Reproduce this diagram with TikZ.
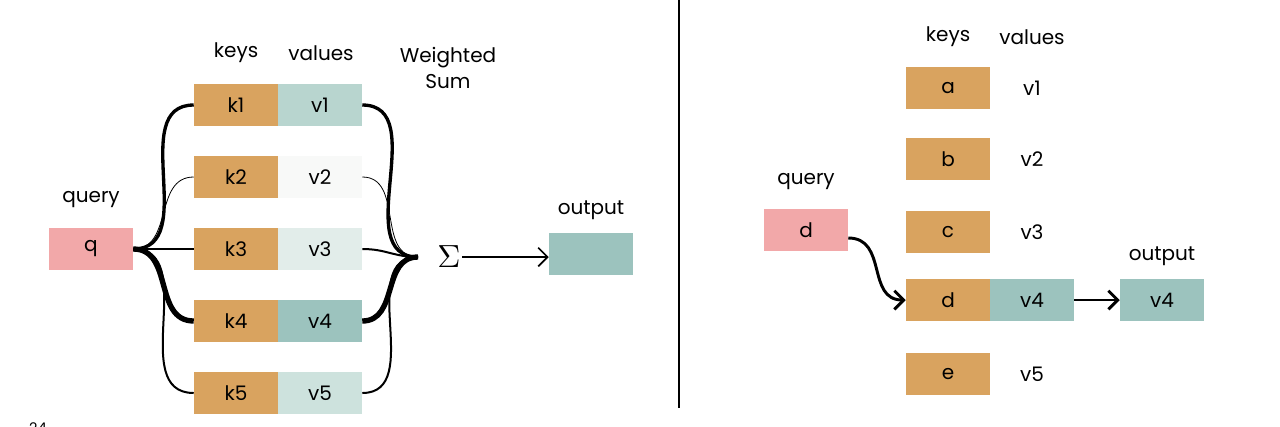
\documentclass[tikz,border=0pt]{standalone}
\usepackage{fontspec}
\setmainfont{Poppins}
\usetikzlibrary{positioning,arrows.meta}
\definecolor{keyc}{HTML}{D9A35F}
\definecolor{qc}{HTML}{F2A8A9}
\definecolor{vA}{HTML}{B8D5CF}
\definecolor{vB}{HTML}{F8F9F8}
\definecolor{vC}{HTML}{E2EDEA}
\definecolor{vD}{HTML}{9CC3BE}
\definecolor{vE}{HTML}{CDE2DD}
\tikzset{
  box/.style={minimum width=63pt,minimum height=31pt,inner sep=0pt,font=\fontsize{15}{15}\selectfont},
  lbl/.style={font=\fontsize{15}{15}\selectfont},
  wire/.style={out=0,in=180,looseness=1.1}
}
\begin{document}
\begin{tikzpicture}[x=0.75pt,y=-0.75pt]
		\useasboundingbox (0,0) rectangle (1280,426);
		% left part
		\node[box,fill=qc] (q) at (91,249){q};
		\foreach \i/\y/\c in {1/105/vA,2/177/vB,3/249/vC,4/321/vD,5/393/vE}{
			\node[box,fill=keyc] (k\i) at (236,\y){k\i};
			\node[box,fill=\c] (v\i) at (320,\y){v\i};
		}
		\node[lbl] at (236,53){keys};
		\node[lbl] at (321,53){values};
		\node[lbl,align=center] at (448,68){Weighted\\[4pt]Sum};
		\node[lbl] at (91,200){query};
		\node[lbl] at (591,210){output};
		\node[inner sep=1pt] (sum) at (449,257){\scalebox{2.4}{$\Sigma$}};
		\coordinate (s) at (418,257);
		\node[box,fill=vD] (out) at (591,254){};
		\draw[-{Straight Barb[length=7pt]},line width=1.2pt] (sum.east) -- (sum.east -| out.west);
		\foreach \i/\w in {1/2.5,2/0.6,3/1.5,4/4,5/1.5}{
			\draw[line width=\w pt] (q.east) to[wire] (k\i.west);
			\draw[line width=\w pt] (v\i.east) to[wire] (s);
		}
		\node[font=\fontsize{11}{11}\selectfont] at (38,428){24};
		% divider
		\draw[line width=1.5pt] (679,0) -- (679,408);
		% right part
		\foreach \i/\y/\n in {a/88/1,b/159/2,c/232/3,e/374/5}{
			\node[box,fill=keyc] (r\i) at (948,\y){\i};
			\node[lbl] at (1032,\y){v\n};
		}
		\node[box,fill=keyc] (rd) at (948,300){d};
		\node[box,fill=vD] (rv) at (1032,300){v4};
		\node[lbl] at (948,37){keys};
		\node[lbl] at (1032,37){values};
		\node[lbl] at (806,182){query};
		\node[box,fill=qc] (qd) at (806,230){d};
		\node[box,fill=vD] (ro) at (1162,300){v4};
		\node[lbl] at (1162,256){output};
		\draw[-{Straight Barb[length=7pt]},line width=2.2pt] ([yshift=-6pt]qd.east) to[out=0,in=180,looseness=1.2] (rd.west);
		\draw[-{Straight Barb[length=7pt]},line width=2.2pt] (rv.east) -- (ro.west);
\end{tikzpicture}
\end{document}
